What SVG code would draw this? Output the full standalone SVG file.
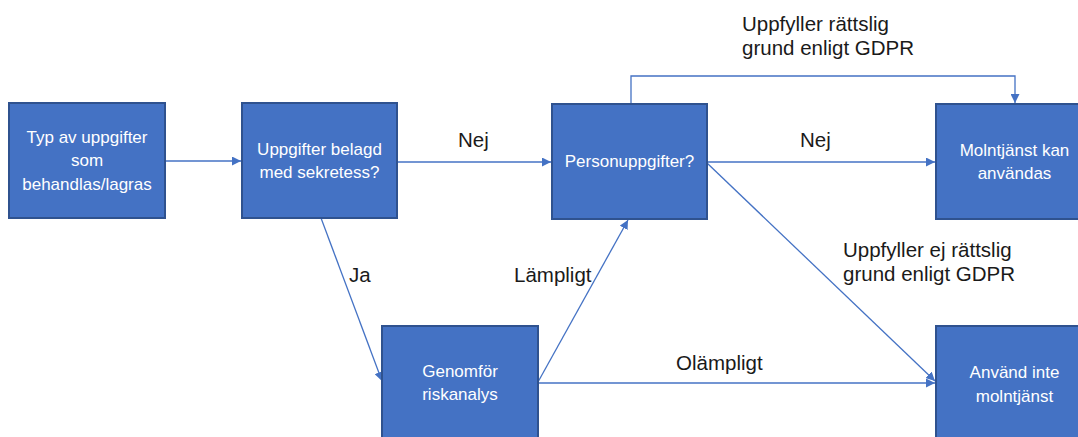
<svg xmlns="http://www.w3.org/2000/svg" width="1078" height="437" viewBox="0 0 1078 437">
<style>
.box{fill:#4472C4;stroke:#2F528F;stroke-width:2}
.bt{font-family:"Liberation Sans",Arial,sans-serif;font-size:17px;fill:#FFFFFF;text-anchor:middle}
.lbl{font-family:"Liberation Sans",Arial,sans-serif;font-size:20.5px;fill:#1a1a1a}
.con{fill:none;stroke:#4472C4;stroke-width:1.3}
</style>
<defs>
<marker id="ah" viewBox="0 0 10 10" refX="10" refY="5" markerWidth="9" markerHeight="9" markerUnits="userSpaceOnUse" orient="auto">
<path d="M0,0 L10,5 L0,10 Z" fill="#4472C4"/>
</marker>
</defs>
<rect width="1078" height="437" fill="#FFFFFF"/>
<g id="connectors">
<line class="con" x1="165" y1="161" x2="241" y2="161" marker-end="url(#ah)"/>
<line class="con" x1="397" y1="162" x2="551" y2="162" marker-end="url(#ah)"/>
<line class="con" x1="707" y1="162" x2="935" y2="162" marker-end="url(#ah)"/>
<polyline class="con" points="631,104 631,76 1015,76 1015,103" marker-end="url(#ah)"/>
<line class="con" x1="321" y1="218" x2="382" y2="381" marker-end="url(#ah)"/>
<line class="con" x1="538" y1="382" x2="628" y2="220" marker-end="url(#ah)"/>
<line class="con" x1="538" y1="383" x2="935" y2="383" marker-end="url(#ah)"/>
<line class="con" x1="707" y1="163" x2="935" y2="381" marker-end="url(#ah)"/>
</g>
<g id="labels">
<text class="lbl" x="742" y="31">Uppfyller rättslig</text>
<text class="lbl" x="742" y="55">grund enligt GDPR</text>
<text class="lbl" x="458" y="147">Nej</text>
<text class="lbl" x="800" y="147">Nej</text>
<text class="lbl" x="843" y="257">Uppfyller ej rättslig</text>
<text class="lbl" x="843" y="281">grund enligt GDPR</text>
<text class="lbl" x="349" y="282">Ja</text>
<text class="lbl" x="514" y="282">Lämpligt</text>
<text class="lbl" x="676" y="370">Olämpligt</text>
</g>
<g id="node-typ">
<rect class="box" x="9" y="103" width="156" height="115"/>
<text class="bt" x="87" y="143">Typ av uppgifter</text>
<text class="bt" x="87" y="166">som</text>
<text class="bt" x="87" y="190">behandlas/lagras</text>
</g>
<g id="node-sekretess">
<rect class="box" x="242" y="103" width="155" height="115"/>
<text class="bt" x="319.5" y="155">Uppgifter belagd</text>
<text class="bt" x="319.5" y="178">med sekretess?</text>
</g>
<g id="node-person">
<rect class="box" x="552" y="104" width="155" height="115"/>
<text class="bt" x="629.5" y="167">Personuppgifter?</text>
</g>
<g id="node-kan">
<rect class="box" x="936" y="104" width="157" height="115"/>
<text class="bt" x="1014.5" y="156">Molntjänst kan</text>
<text class="bt" x="1014.5" y="179">användas</text>
</g>
<g id="node-risk">
<rect class="box" x="382" y="326" width="156" height="120"/>
<text class="bt" x="460" y="377">Genomför</text>
<text class="bt" x="460" y="400">riskanalys</text>
</g>
<g id="node-inte">
<rect class="box" x="936" y="326" width="157" height="120"/>
<text class="bt" x="1014.5" y="378">Använd inte</text>
<text class="bt" x="1014.5" y="402">molntjänst</text>
</g>
</svg>
